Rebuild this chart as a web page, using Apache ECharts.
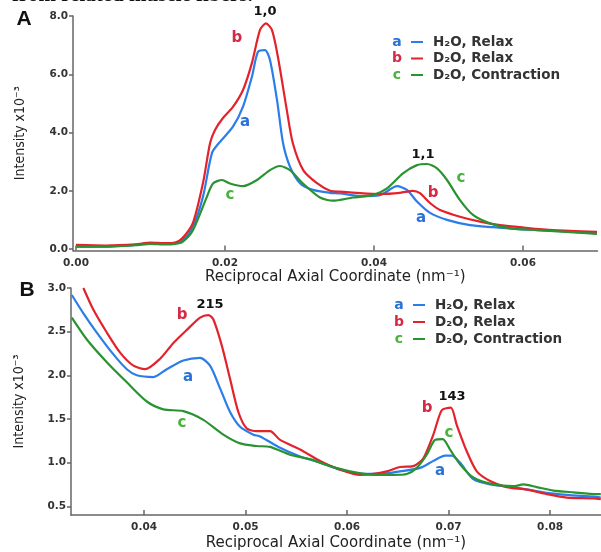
<!DOCTYPE html>
<html>
<head>
<meta charset="utf-8">
<script src="https://cdn.jsdelivr.net/npm/echarts@6/dist/echarts.min.js"></script>
<style>
  html, body { margin: 0; padding: 0; background: #fff; }
  #chart { width: 601px; height: 552px; }
</style>
</head>
<body>
<div id="chart"></div>
<script>
// ---- panel A: 1,0 / 1,1 equatorial reflections ----
const xA_a = [0, 0.004, 0.008, 0.010, 0.012, 0.0133, 0.0143, 0.0157, 0.01705, 0.01826, 0.01933, 0.02107, 0.02242, 0.02362, 0.02443, 0.02537, 0.02604, 0.02698, 0.02779, 0.02872, 0.03007, 0.03181, 0.0341, 0.03544, 0.03812, 0.0408, 0.04309, 0.04443, 0.04577, 0.04752, 0.0498, 0.05289, 0.05597, 0.0596, 0.06403, 0.06993];
const yA_a = [0.08, 0.08, 0.14, 0.2, 0.18, 0.2, 0.3, 0.77, 1.8, 3.3, 3.68, 4.2, 4.89, 5.92, 6.77, 6.83, 6.49, 5.12, 3.64, 2.83, 2.26, 2.03, 1.93, 1.91, 1.82, 1.85, 2.16, 2.03, 1.63, 1.24, 1.0, 0.82, 0.75, 0.68, 0.63, 0.54];

const xA_b = [0, 0.004, 0.008, 0.010, 0.012, 0.0133, 0.0143, 0.0157, 0.01705, 0.018, 0.01866, 0.01973, 0.02107, 0.02242, 0.02362, 0.0247, 0.0255, 0.0263, 0.0271, 0.0283, 0.0291, 0.0305, 0.0323, 0.0341, 0.03544, 0.03812, 0.0408, 0.04349, 0.04523, 0.04617, 0.04752, 0.04886, 0.05154, 0.05423, 0.05691, 0.0596, 0.06403, 0.06993];
const yA_b = [0.14, 0.12, 0.16, 0.22, 0.2, 0.22, 0.38, 0.9, 2.27, 3.64, 4.09, 4.5, 4.88, 5.46, 6.39, 7.52, 7.75, 7.52, 6.6, 4.77, 3.64, 2.71, 2.27, 2.0, 1.97, 1.92, 1.89, 1.93, 2.0, 1.92, 1.58, 1.34, 1.11, 0.94, 0.82, 0.75, 0.65, 0.59];

const xA_c = [0, 0.004, 0.008, 0.010, 0.012, 0.0133, 0.0143, 0.0157, 0.01758, 0.01839, 0.0196, 0.02067, 0.02242, 0.0243, 0.02604, 0.02738, 0.02872, 0.03047, 0.03275, 0.0345, 0.0372, 0.03987, 0.04174, 0.04389, 0.04577, 0.04711, 0.04846, 0.0498, 0.05154, 0.05329, 0.05557, 0.05826, 0.06188, 0.06631, 0.06993];
const yA_c = [0.08, 0.08, 0.13, 0.18, 0.16, 0.18, 0.25, 0.65, 1.8, 2.25, 2.37, 2.25, 2.16, 2.37, 2.71, 2.85, 2.71, 2.25, 1.77, 1.66, 1.77, 1.85, 2.08, 2.6, 2.88, 2.92, 2.77, 2.37, 1.68, 1.17, 0.88, 0.71, 0.65, 0.58, 0.52];

// ---- panel B: meridional 215 / 143 reflections ----
const xB_a = [0.03288, 0.03402, 0.03534, 0.03698, 0.0383, 0.03928, 0.04092, 0.04224, 0.04387, 0.04552, 0.0465, 0.04749, 0.04847, 0.04946, 0.05077, 0.05143, 0.0534, 0.05537, 0.05734, 0.05931, 0.06128, 0.06325, 0.06522, 0.0672, 0.0685, 0.06966, 0.07032, 0.07113, 0.07244, 0.07409, 0.07638, 0.07934, 0.08164, 0.08427, 0.085];
const yB_a = [2.92, 2.71, 2.49, 2.24, 2.07, 2.0, 1.98, 2.07, 2.17, 2.2, 2.11, 1.85, 1.58, 1.41, 1.32, 1.30, 1.17, 1.07, 1.0, 0.92, 0.87, 0.87, 0.90, 0.94, 1.02, 1.08, 1.08, 1.0, 0.81, 0.75, 0.72, 0.66, 0.63, 0.61, 0.60];

const xB_b = [0.03402, 0.03501, 0.03633, 0.03764, 0.03895, 0.0401, 0.04158, 0.04289, 0.04421, 0.04552, 0.04633, 0.04683, 0.04766, 0.04847, 0.04929, 0.05012, 0.0511, 0.05241, 0.0534, 0.05537, 0.05734, 0.05931, 0.06128, 0.06259, 0.06391, 0.06522, 0.06653, 0.06752, 0.0685, 0.06933, 0.07022, 0.07081, 0.07179, 0.07278, 0.07409, 0.07573, 0.0777, 0.07967, 0.08164, 0.08427, 0.085];
const yB_b = [3.0, 2.75, 2.49, 2.26, 2.11, 2.07, 2.19, 2.37, 2.52, 2.66, 2.69, 2.64, 2.34, 1.96, 1.58, 1.39, 1.36, 1.36, 1.26, 1.15, 1.02, 0.92, 0.86, 0.87, 0.90, 0.95, 0.96, 1.05, 1.32, 1.60, 1.63, 1.43, 1.13, 0.90, 0.79, 0.72, 0.69, 0.64, 0.60, 0.59, 0.58];

const xB_c = [0.03288, 0.03436, 0.03633, 0.0383, 0.04027, 0.0419, 0.04387, 0.04584, 0.04781, 0.04946, 0.0511, 0.05241, 0.05438, 0.05635, 0.05833, 0.0603, 0.06259, 0.06456, 0.06588, 0.06687, 0.06785, 0.06867, 0.06943, 0.07015, 0.07113, 0.07244, 0.07441, 0.07638, 0.07737, 0.07869, 0.08033, 0.0823, 0.0846, 0.085];
const yB_c = [2.66, 2.41, 2.15, 1.92, 1.70, 1.61, 1.59, 1.49, 1.32, 1.22, 1.19, 1.18, 1.09, 1.04, 0.96, 0.90, 0.86, 0.86, 0.87, 0.94, 1.09, 1.26, 1.27, 1.15, 0.98, 0.83, 0.75, 0.73, 0.75, 0.72, 0.68, 0.66, 0.64, 0.64];

// tick labels
const xTicksA = [0, 0.02, 0.04, 0.06];
const yTicksA = [0, 2, 4, 6, 8];
const xTicksB = [0.04, 0.05, 0.06, 0.07, 0.08];
const yTicksB = [0.5, 1.0, 1.5, 2.0, 2.5, 3.0];

const legendNames = ['H₂O, Relax', 'D₂O, Relax', 'D₂O, Contraction'];
const letters = ['a', 'b', 'c'];

// curve annotations in data coordinates: [x, y, text, kind]
const notesA = [
  [0.02537, 8.14, '1,0', 'k'], [0.0216, 7.25, 'b', 'b'], [0.02268, 4.36, 'a', 'a'], [0.02067, 1.85, 'c', 'c'],
  [0.04658, 3.23, '1,1', 'k'], [0.05168, 2.44, 'c', 'c'], [0.04792, 1.92, 'b', 'b'], [0.04631, 1.06, 'a', 'a']
];
const notesB = [
  [0.0465, 2.81, '215', 'k'], [0.04374, 2.69, 'b', 'b'], [0.04433, 1.98, 'a', 'a'], [0.04374, 1.45, 'c', 'c'],
  [0.07034, 1.76, '143', 'k'], [0.06788, 1.63, 'b', 'b'], [0.07005, 1.34, 'c', 'c'], [0.06916, 0.90, 'a', 'a']
];

const lineColors = { a: '#2b7de9', b: '#e3232c', c: '#2a9331' };
const textColors = { a: '#2a72d8', b: '#d42a46', c: '#48b43c', k: '#111' };

const pairs = (xs, ys) => xs.map((x, i) => [x, ys[i]]);

const axisCol = '#666';
const tickFont = { fontFamily: 'DejaVu Sans', fontWeight: 'bold', fontSize: 10.5, color: '#333' };

function xAxisOf(grid, min, max, ticks, gap) {
  return {
    type: 'value', gridIndex: grid, min: min, max: max,
    name: 'Reciprocal Axial Coordinate (nm⁻¹)', nameLocation: 'middle', nameGap: gap,
    nameTextStyle: { fontFamily: 'DejaVu Sans', fontSize: 15, color: '#222' },
    splitLine: { show: false },
    axisLine: { onZero: false, lineStyle: { color: axisCol, width: 1.5 } },
    axisTick: { inside: true, length: 5, customValues: ticks, lineStyle: { color: axisCol, width: 1.5 } },
    axisLabel: Object.assign({ margin: 7, customValues: ticks, formatter: v => v.toFixed(2) }, tickFont)
  };
}

function yAxisOf(grid, min, max, ticks, gap) {
  return {
    type: 'value', gridIndex: grid, min: min, max: max,
    name: 'Intensity x10⁻³', nameLocation: 'middle', nameGap: gap, nameRotate: 90,
    nameTextStyle: { fontFamily: 'DejaVu Sans Condensed, Liberation Sans', fontSize: 14, color: '#222' },
    splitLine: { show: false },
    axisLine: { onZero: false, lineStyle: { color: axisCol, width: 1.5 } },
    axisTick: { length: 4, customValues: ticks, lineStyle: { color: axisCol, width: 1.5 } },
    axisLabel: Object.assign({ margin: 5, customValues: ticks, formatter: v => v.toFixed(1) }, tickFont)
  };
}

function lineSeries(grid, key, xs, ys) {
  return {
    type: 'line', xAxisIndex: grid, yAxisIndex: grid,
    data: pairs(xs, ys), showSymbol: false, smooth: 0.25,
    lineStyle: { color: lineColors[key], width: 2.2 }, z: 3
  };
}

const option = {
  backgroundColor: '#fff',
  animation: false,
  grid: [
    { left: 73, top: 16, width: 524.5, height: 234.5 },
    { left: 71, top: 288, width: 529.8, height: 230 }
  ],
  xAxis: [
    xAxisOf(0, -0.0004, 0.07, xTicksA, 15),
    xAxisOf(1, 0.0328, 0.085, xTicksB, 21)
  ],
  yAxis: [
    yAxisOf(0, -0.05, 8.0, yTicksA, 46),
    yAxisOf(1, 0.4, 3.0, yTicksB, 45)
  ],
  series: [
    lineSeries(0, 'a', xA_a, yA_a),
    lineSeries(0, 'b', xA_b, yA_b),
    lineSeries(0, 'c', xA_c, yA_c),
    lineSeries(1, 'a', xB_a, yB_a),
    lineSeries(1, 'b', xB_b, yB_b),
    lineSeries(1, 'c', xB_c, yB_c)
  ]
};

const chart = echarts.init(document.getElementById('chart'));
chart.setOption(option);

// overlay texts: panel letters, legends, curve annotations
const graphic = [];
graphic.push({ type: 'text', left: 12, top: -15, style: { text: 'from related muscle fibers.', font: 'bold 21px "Liberation Serif"', fill: '#111' } });
graphic.push({ type: 'text', x: 24, y: 19, style: { text: 'A', font: 'bold 21px "Liberation Sans"', fill: '#111', align: 'center', verticalAlign: 'middle' } });
graphic.push({ type: 'text', x: 27, y: 290, style: { text: 'B', font: 'bold 21px "Liberation Sans"', fill: '#111', align: 'center', verticalAlign: 'middle' } });

function legendAt(x0, y0, dy) {
  letters.forEach((k, i) => {
    const y = y0 + i * dy;
    graphic.push({ type: 'text', x: x0, y: y, style: { text: k, font: 'bold 14px "DejaVu Sans"', fill: textColors[k], align: 'center', verticalAlign: 'middle' } });
    graphic.push({ type: 'line', shape: { x1: x0 + 14, y1: y, x2: x0 + 26, y2: y }, style: { stroke: lineColors[k], lineWidth: 2 } });
    graphic.push({ type: 'text', x: x0 + 36, y: y, style: { text: legendNames[i], font: 'bold 13.5px "DejaVu Sans"', fill: '#333', verticalAlign: 'middle' } });
  });
}
legendAt(397, 42, 16.5);
legendAt(399, 305, 17);

function notesOn(grid, notes) {
  notes.forEach(n => {
    const p = chart.convertToPixel({ gridIndex: grid }, [n[0], n[1]]);
    const isPeak = n[3] === 'k';
    graphic.push({
      type: 'text', x: p[0], y: p[1],
      style: {
        text: n[2], fill: textColors[n[3]], align: 'center', verticalAlign: 'middle',
        font: isPeak ? 'bold 13px "DejaVu Sans"' : 'bold 15px "DejaVu Sans"'
      }
    });
  });
}
notesOn(0, notesA);
notesOn(1, notesB);

chart.setOption({ graphic: graphic });
window.addEventListener('resize', () => chart.resize());
</script>
</body>
</html>
